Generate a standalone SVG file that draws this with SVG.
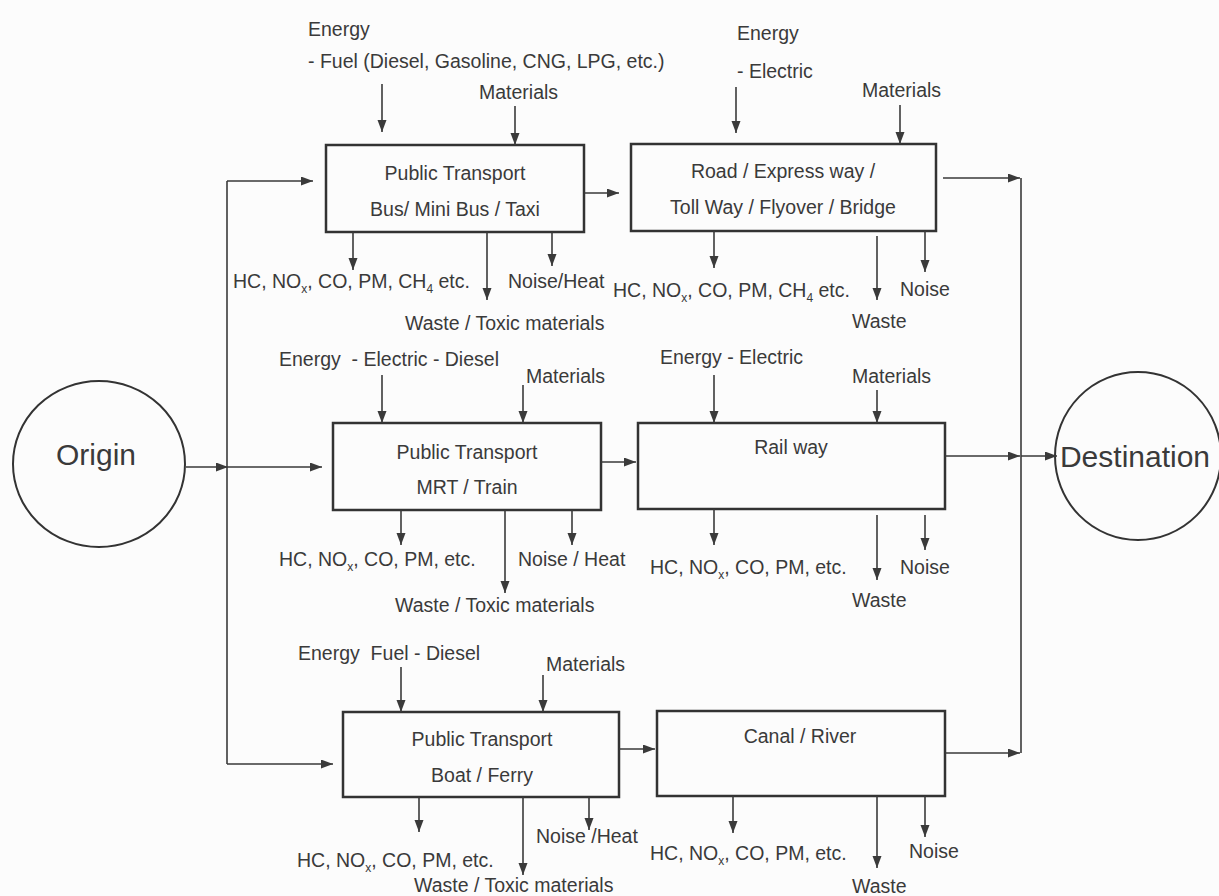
<svg xmlns="http://www.w3.org/2000/svg" width="1219" height="896" viewBox="0 0 1219 896">
<defs>
<marker id="ah" markerUnits="userSpaceOnUse" markerWidth="13" markerHeight="10" refX="12" refY="4.5" orient="auto">
<path d="M0,0 L12,4.5 L0,9 z" fill="#3a3a3a"/>
</marker>
<style>
.t{font-family:"Liberation Sans",Arial,sans-serif;font-size:19.5px;fill:#3a3a3a;white-space:pre}
.c{text-anchor:middle}
.big{font-size:30px}
.s{font-size:12px}
.box{fill:none;stroke:#333;stroke-width:2.5}
.circ{fill:none;stroke:#333;stroke-width:2}
.ln line,.ln polyline{stroke:#3a3a3a;stroke-width:1.6;fill:none}
.ar{marker-end:url(#ah)}
</style>
</defs>
<rect width="1219" height="896" fill="#fcfcfc"/>

<g id="origin">
<ellipse class="circ" cx="99" cy="464" rx="86" ry="83"/>
<text class="t big c" x="96" y="465">Origin</text>
</g>
<g id="destination">
<ellipse class="circ" cx="1138" cy="456" rx="83" ry="84"/>
<text class="t big c" x="1135" y="467">Destination</text>
</g>

<g id="bus">
<rect class="box" x="326" y="145" width="258" height="87"/>
<text class="t c" x="455" y="180">Public Transport</text>
<text class="t c" x="455" y="216">Bus/ Mini Bus / Taxi</text>
<text class="t" x="308" y="36">Energy</text>
<text class="t" x="308" y="68">- Fuel (Diesel, Gasoline, CNG, LPG, etc.)</text>
<text class="t" x="479" y="99">Materials</text>
<text class="t" x="233" y="288">HC, NO<tspan class="s" dy="5">x</tspan><tspan dy="-5">, CO, PM, CH</tspan><tspan class="s" dy="5">4</tspan><tspan dy="-5"> etc.</tspan></text>
<text class="t" x="508" y="288">Noise/Heat</text>
<text class="t" x="405" y="330">Waste / Toxic materials</text>
</g>

<g id="road">
<rect class="box" x="631" y="144" width="305" height="87"/>
<text class="t c" x="783" y="178">Road / Express way /</text>
<text class="t c" x="783" y="214">Toll Way / Flyover / Bridge</text>
<text class="t" x="737" y="40">Energy</text>
<text class="t" x="737" y="78">- Electric</text>
<text class="t" x="862" y="97">Materials</text>
<text class="t" x="613" y="297">HC, NO<tspan class="s" dy="5">x</tspan><tspan dy="-5">, CO, PM, CH</tspan><tspan class="s" dy="5">4</tspan><tspan dy="-5"> etc.</tspan></text>
<text class="t" x="900" y="296">Noise</text>
<text class="t" x="852" y="328">Waste</text>
</g>

<g id="mrt">
<rect class="box" x="333" y="423" width="268" height="87"/>
<text class="t c" x="467" y="459">Public Transport</text>
<text class="t c" x="467" y="494">MRT / Train</text>
<text class="t" x="279" y="366">Energy  - Electric - Diesel</text>
<text class="t" x="526" y="383">Materials</text>
<text class="t" x="279" y="566">HC, NO<tspan class="s" dy="5">x</tspan><tspan dy="-5">, CO, PM, etc.</tspan></text>
<text class="t" x="518" y="566">Noise / Heat</text>
<text class="t" x="395" y="612">Waste / Toxic materials</text>
</g>

<g id="railway">
<rect class="box" x="638" y="423" width="307" height="86"/>
<text class="t c" x="791" y="454">Rail way</text>
<text class="t" x="660" y="364">Energy - Electric</text>
<text class="t" x="852" y="383">Materials</text>
<text class="t" x="650" y="574">HC, NO<tspan class="s" dy="5">x</tspan><tspan dy="-5">, CO, PM, etc.</tspan></text>
<text class="t" x="900" y="574">Noise</text>
<text class="t" x="852" y="607">Waste</text>
</g>

<g id="boat">
<rect class="box" x="343" y="712" width="276" height="85"/>
<text class="t c" x="482" y="746">Public Transport</text>
<text class="t c" x="482" y="782">Boat / Ferry</text>
<text class="t" x="298" y="660">Energy  Fuel - Diesel</text>
<text class="t" x="546" y="671">Materials</text>
<text class="t" x="297" y="867">HC, NO<tspan class="s" dy="5">x</tspan><tspan dy="-5">, CO, PM, etc.</tspan></text>
<text class="t" x="536" y="843">Noise /Heat</text>
<text class="t" x="414" y="892">Waste / Toxic materials</text>
</g>

<g id="canal">
<rect class="box" x="657" y="711" width="288" height="85"/>
<text class="t c" x="800" y="743">Canal / River</text>
<text class="t" x="650" y="860">HC, NO<tspan class="s" dy="5">x</tspan><tspan dy="-5">, CO, PM, etc.</tspan></text>
<text class="t" x="909" y="858">Noise</text>
<text class="t" x="852" y="893">Waste</text>
</g>

<g id="connectors" class="ln">
<line x1="227" y1="181" x2="227" y2="764"/>
<line class="ar" x1="227" y1="181" x2="313" y2="181"/>
<line class="ar" x1="186" y1="467" x2="228" y2="467"/>
<line class="ar" x1="228" y1="467" x2="322" y2="467"/>
<line class="ar" x1="227" y1="764" x2="333" y2="764"/>

<line class="ar" x1="382" y1="84" x2="382" y2="132"/>
<line class="ar" x1="515" y1="106" x2="515" y2="145"/>
<line class="ar" x1="584" y1="193" x2="619" y2="193"/>
<line class="ar" x1="353" y1="232" x2="353" y2="270"/>
<line class="ar" x1="487" y1="232" x2="487" y2="300"/>
<line class="ar" x1="552" y1="232" x2="552" y2="266"/>

<line class="ar" x1="736" y1="87" x2="736" y2="133"/>
<line class="ar" x1="900" y1="105" x2="900" y2="144"/>
<line class="ar" x1="943" y1="178" x2="1020" y2="178"/>
<line x1="1021" y1="178" x2="1021" y2="753"/>
<line class="ar" x1="714" y1="231" x2="714" y2="268"/>
<line class="ar" x1="877" y1="236" x2="877" y2="300"/>
<line class="ar" x1="925" y1="231" x2="925" y2="272"/>

<line class="ar" x1="382" y1="375" x2="382" y2="423"/>
<line class="ar" x1="523" y1="385" x2="523" y2="423"/>
<line class="ar" x1="401" y1="510" x2="401" y2="545"/>
<line class="ar" x1="505" y1="510" x2="505" y2="593"/>
<line class="ar" x1="572" y1="510" x2="572" y2="545"/>
<line class="ar" x1="601" y1="462" x2="636" y2="462"/>

<line class="ar" x1="714" y1="375" x2="714" y2="423"/>
<line class="ar" x1="877" y1="390" x2="877" y2="423"/>
<line class="ar" x1="714" y1="509" x2="714" y2="545"/>
<line class="ar" x1="877" y1="515" x2="877" y2="580"/>
<line class="ar" x1="925" y1="515" x2="925" y2="550"/>
<line class="ar" x1="945" y1="456" x2="1020" y2="456"/>
<line class="ar" x1="1021" y1="456" x2="1057" y2="456"/>

<line class="ar" x1="401" y1="667" x2="401" y2="712"/>
<line class="ar" x1="543" y1="675" x2="543" y2="712"/>
<line class="ar" x1="419" y1="797" x2="419" y2="832"/>
<line class="ar" x1="523" y1="797" x2="523" y2="875"/>
<line class="ar" x1="589" y1="797" x2="589" y2="830"/>
<line class="ar" x1="619" y1="749" x2="655" y2="749"/>

<line class="ar" x1="733" y1="796" x2="733" y2="833"/>
<line class="ar" x1="877" y1="796" x2="877" y2="868"/>
<line class="ar" x1="925" y1="796" x2="925" y2="837"/>
<line class="ar" x1="945" y1="753" x2="1020" y2="753"/>
</g>
</svg>
